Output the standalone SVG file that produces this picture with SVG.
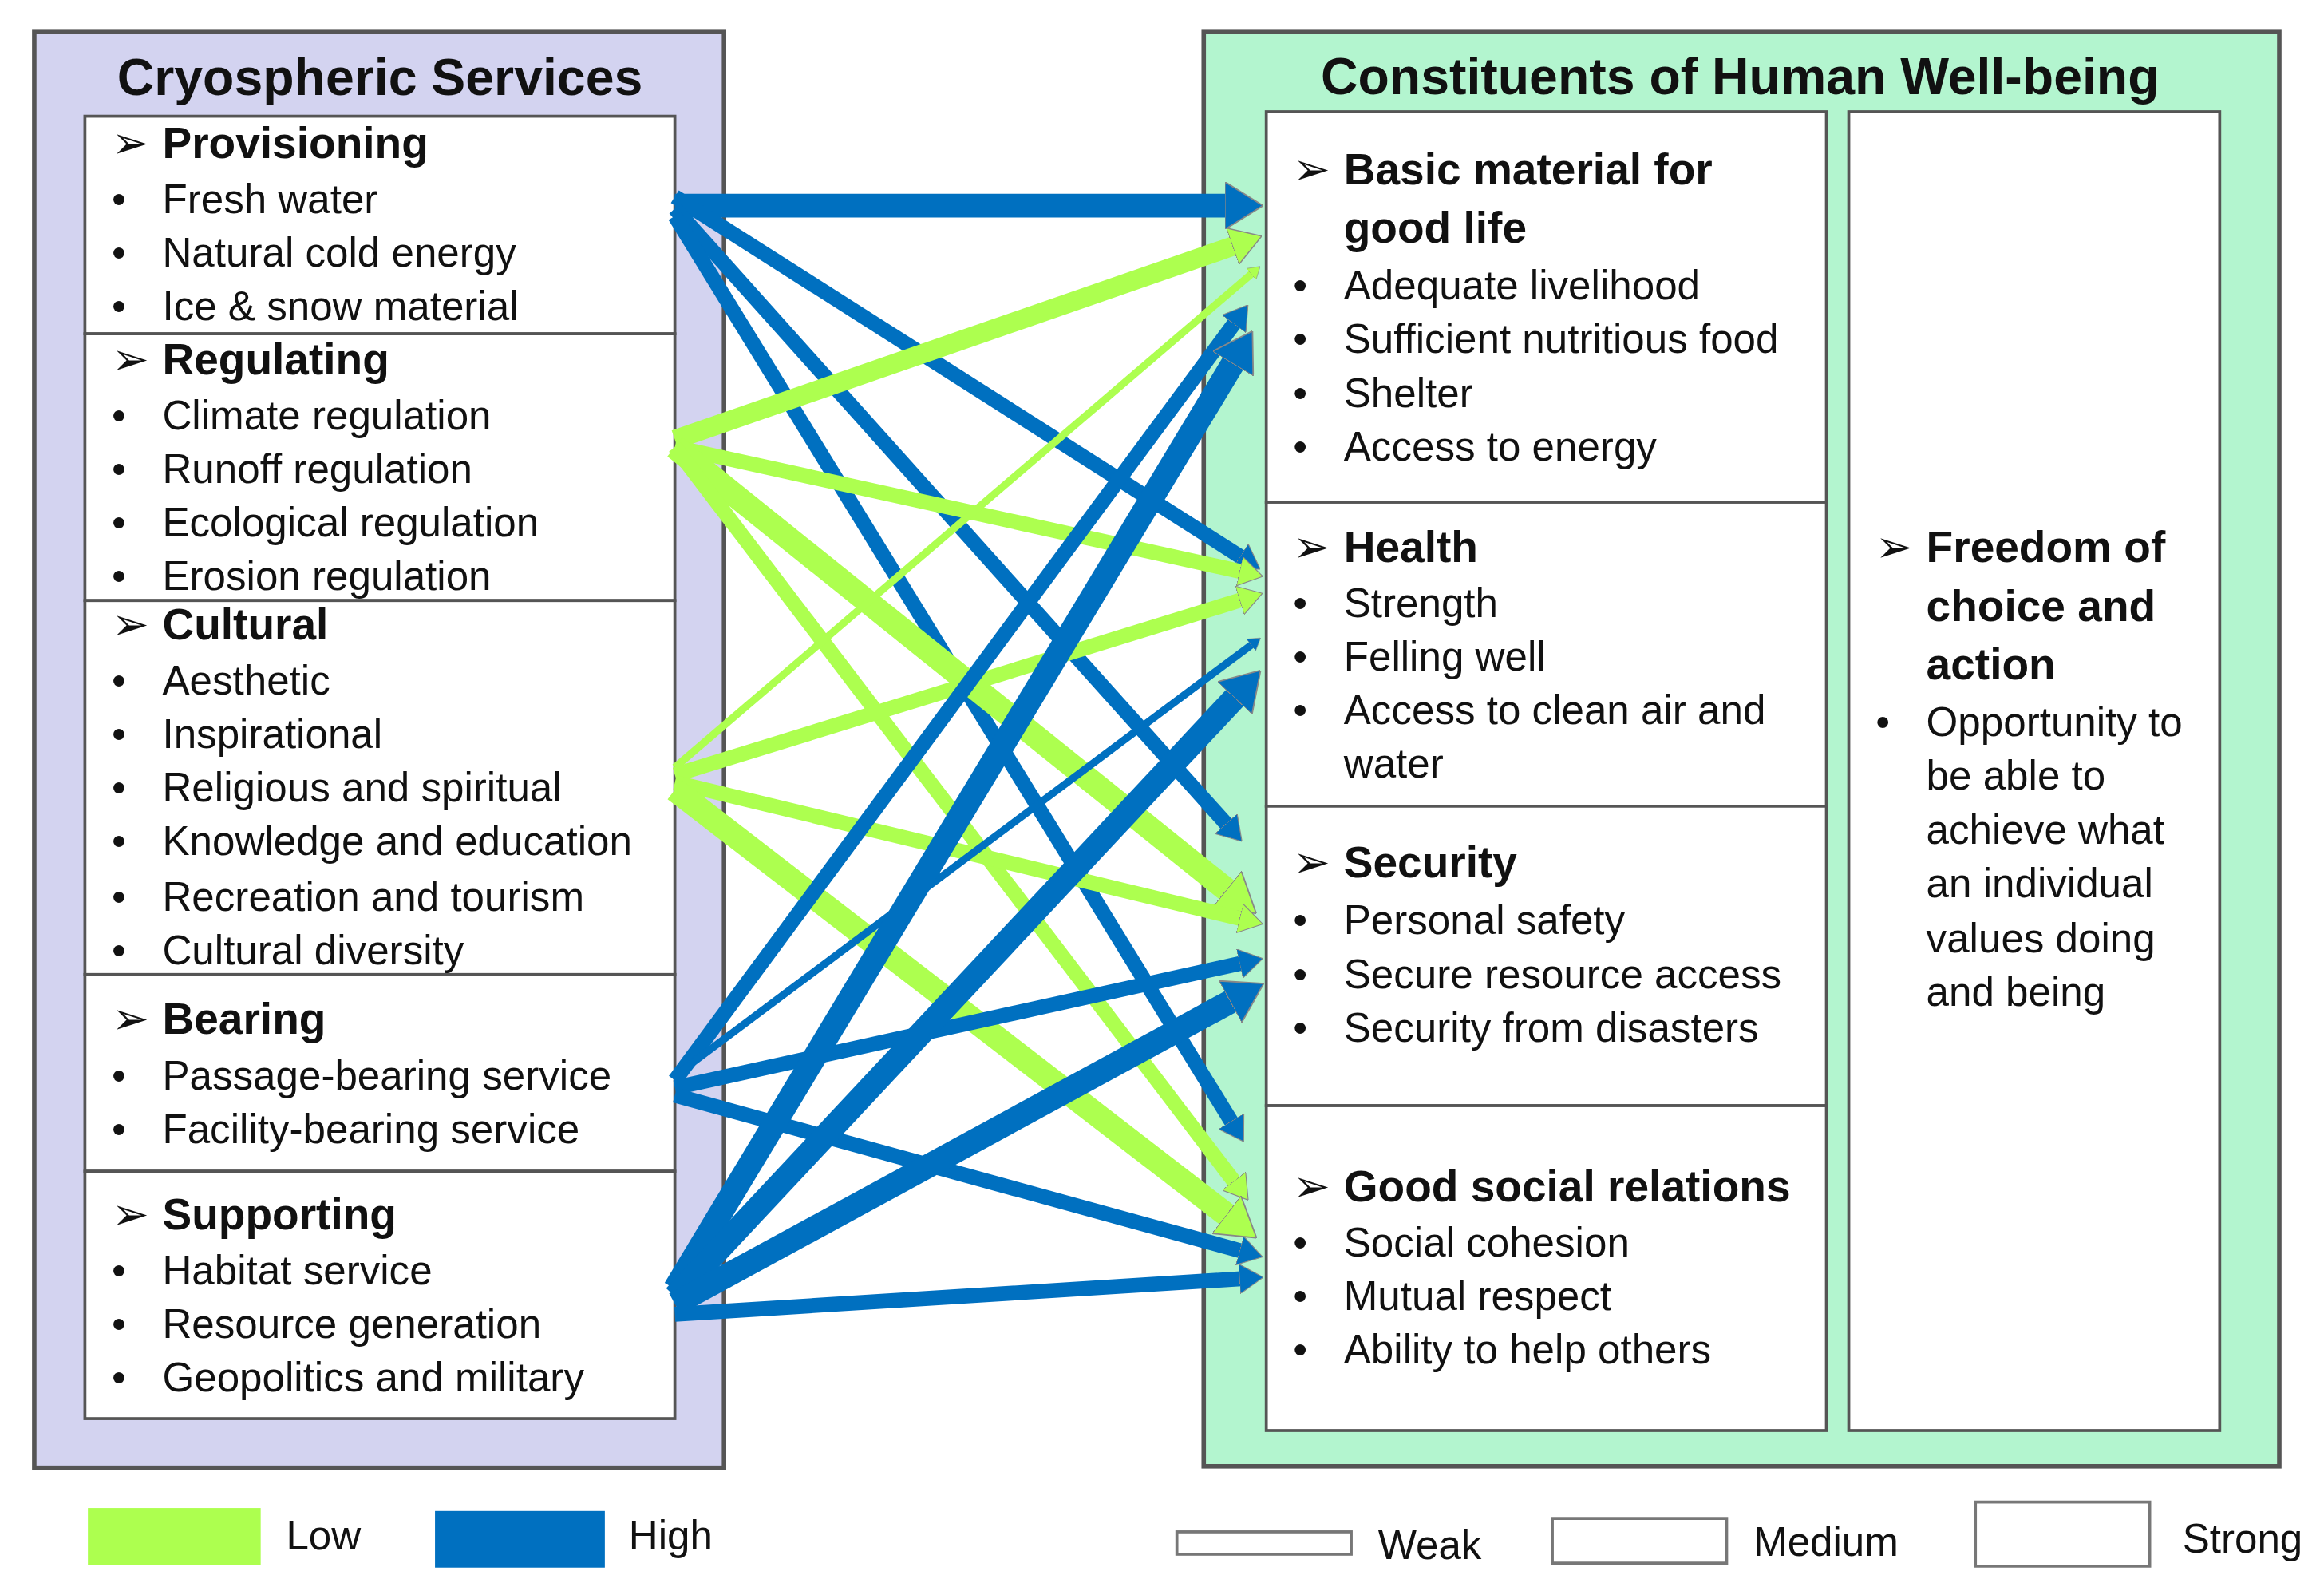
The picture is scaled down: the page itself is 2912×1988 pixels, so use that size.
<svg xmlns="http://www.w3.org/2000/svg" width="2912" height="1988" viewBox="0 0 2912 1988">
<style>
text{font-family:"Liberation Sans",Arial,sans-serif;font-size:27.4px;fill:#111}
.h{font-weight:bold;font-size:29.5px}
.t{font-weight:bold;font-size:34.5px}
.a{font-size:30px}
.box{fill:#fff;stroke:#555;stroke-width:2}
.b{stroke:#0070c0;fill:none}
.g{stroke:#adff4f;fill:none}
.s{stroke-width:16}.m{stroke-width:10}.w{stroke-width:5}
.b{marker-end:url(#hb)}.g{marker-end:url(#hg)}
</style>
<defs>
<marker id="hb" viewBox="0 -1 1.6 2" refX="0.3" refY="0" markerWidth="1.6" markerHeight="2" orient="auto" markerUnits="strokeWidth"><path d="M0,-1L1.6,0L0,1z" fill="#0070c0" stroke="#888" stroke-width="0.06"/></marker>
<marker id="hg" viewBox="0 -1 1.6 2" refX="0.3" refY="0" markerWidth="1.6" markerHeight="2" orient="auto" markerUnits="strokeWidth"><path d="M0,-1L1.6,0L0,1z" fill="#adff4f" stroke="#888" stroke-width="0.06"/></marker>
</defs>
<rect width="2912" height="1988" fill="#fff"/>
<g transform="scale(1.86667)">
<g id="cryo">
<rect x="23" y="21" width="463" height="964" fill="#d3d3f0" stroke="#555" stroke-width="3"/>
<text class="t" x="255" y="64" text-anchor="middle">Cryospheric Services</text>
</g>
<g id="provisioning"><rect class="box" x="57" y="78" width="396" height="146"/>
<text class="a" x="75" y="106">➢</text><text class="h" x="109" y="106">Provisioning</text>
<text x="75" y="143">•</text><text x="109" y="143">Fresh water</text>
<text x="75" y="179">•</text><text x="109" y="179">Natural cold energy</text>
<text x="75" y="215">•</text><text x="109" y="215">Ice &amp; snow material</text></g>
<g id="regulating"><rect class="box" x="57" y="224" width="396" height="179"/>
<text class="a" x="75" y="251">➢</text><text class="h" x="109" y="251">Regulating</text>
<text x="75" y="288">•</text><text x="109" y="288">Climate regulation</text>
<text x="75" y="324">•</text><text x="109" y="324">Runoff regulation</text>
<text x="75" y="360">•</text><text x="109" y="360">Ecological regulation</text>
<text x="75" y="396">•</text><text x="109" y="396">Erosion regulation</text></g>
<g id="cultural"><rect class="box" x="57" y="403" width="396" height="251"/>
<text class="a" x="75" y="429">➢</text><text class="h" x="109" y="429">Cultural</text>
<text x="75" y="466">•</text><text x="109" y="466">Aesthetic</text>
<text x="75" y="502">•</text><text x="109" y="502">Inspirational</text>
<text x="75" y="538">•</text><text x="109" y="538">Religious and spiritual</text>
<text x="75" y="574">•</text><text x="109" y="574">Knowledge and education</text>
<text x="75" y="611">•</text><text x="109" y="611">Recreation and tourism</text>
<text x="75" y="647">•</text><text x="109" y="647">Cultural diversity</text></g>
<g id="bearing"><rect class="box" x="57" y="654" width="396" height="132"/>
<text class="a" x="75" y="694">➢</text><text class="h" x="109" y="694">Bearing</text>
<text x="75" y="731">•</text><text x="109" y="731">Passage-bearing  service</text>
<text x="75" y="767">•</text><text x="109" y="767">Facility-bearing service</text></g>
<g id="supporting"><rect class="box" x="57" y="786" width="396" height="166"/>
<text class="a" x="75" y="825">➢</text><text class="h" x="109" y="825">Supporting</text>
<text x="75" y="862">•</text><text x="109" y="862">Habitat service</text>
<text x="75" y="898">•</text><text x="109" y="898">Resource generation</text>
<text x="75" y="934">•</text><text x="109" y="934">Geopolitics and military</text></g>

<g id="wellbeing">
<rect x="808" y="21" width="722" height="963" fill="#b3f5cf" stroke="#555" stroke-width="3"/>
<text class="t" x="1168" y="63" text-anchor="middle">Constituents of Human Well-being</text>
</g>
<g id="basic"><rect class="box" x="850" y="75" width="376" height="262"/>
<text class="a" x="868" y="124">➢</text><text class="h" x="902" y="124">Basic material for</text><text class="h" x="902" y="163">good life</text>
<text x="868" y="201">•</text><text x="902" y="201">Adequate livelihood</text>
<text x="868" y="237">•</text><text x="902" y="237">Sufficient nutritious food</text>
<text x="868" y="273">•</text><text x="902" y="273">Shelter</text>
<text x="868" y="309">•</text><text x="902" y="309">Access to energy</text></g>
<g id="health"><rect class="box" x="850" y="337" width="376" height="204"/>
<text class="a" x="868" y="377">➢</text><text class="h" x="902" y="377">Health</text>
<text x="868" y="414">•</text><text x="902" y="414">Strength</text>
<text x="868" y="450">•</text><text x="902" y="450">Felling well</text>
<text x="868" y="486">•</text><text x="902" y="486">Access to clean air and</text>
<text x="902" y="522">water</text></g>
<g id="security"><rect class="box" x="850" y="541" width="376" height="201"/>
<text class="a" x="868" y="589">➢</text><text class="h" x="902" y="589">Security</text>
<text x="868" y="627">•</text><text x="902" y="627">Personal safety</text>
<text x="868" y="663">•</text><text x="902" y="663">Secure resource access</text>
<text x="868" y="699">•</text><text x="902" y="699">Security from disasters</text></g>
<g id="social"><rect class="box" x="850" y="742" width="376" height="218"/>
<text class="a" x="868" y="806">➢</text><text class="h" x="902" y="806">Good social relations</text>
<text x="868" y="843">•</text><text x="902" y="843">Social cohesion</text>
<text x="868" y="879">•</text><text x="902" y="879">Mutual respect</text>
<text x="868" y="915">•</text><text x="902" y="915">Ability to help others</text></g>
<g id="freedom"><rect class="box" x="1241" y="75" width="249" height="885"/>
<text class="a" x="1259" y="377">➢</text><text class="h" x="1293" y="377">Freedom of</text><text class="h" x="1293" y="417">choice and</text><text class="h" x="1293" y="456">action</text>
<text x="1259" y="494">•</text><text x="1293" y="494">Opportunity to</text>
<text x="1293" y="530">be able to</text><text x="1293" y="566">achieve what</text><text x="1293" y="602">an individual</text><text x="1293" y="639">values doing</text><text x="1293" y="675">and being</text></g>

<g id="connectors">
<line class="b s" x1="453" y1="138" x2="827" y2="138"/>
<line class="b m" x1="453" y1="132" x2="835" y2="375"/>
<line class="b m" x1="453" y1="140" x2="825" y2="555"/>
<line class="b m" x1="453" y1="145" x2="828" y2="755"/>
<line class="g" style="stroke-width:13" x1="453" y1="295" x2="831" y2="164"/>
<line class="g m" x1="453" y1="300" x2="835" y2="384"/>
<line class="g s" x1="453" y1="300" x2="827" y2="600"/>
<line class="g m" x1="453" y1="300" x2="830" y2="795"/>
<line class="g w" x1="453" y1="515" x2="841" y2="183"/>
<line class="g m" x1="453" y1="520" x2="835" y2="402"/>
<line class="g m" x1="453" y1="525" x2="835" y2="617"/>
<line class="g s" x1="453" y1="530" x2="827" y2="818"/>
<line class="b m" x1="453" y1="725" x2="830" y2="215"/>
<line class="b w" x1="453" y1="722" x2="841" y2="432"/>
<line class="b m" x1="453" y1="730" x2="835" y2="646"/>
<line class="b m" x1="453" y1="735" x2="835" y2="840"/>
<line class="b s" x1="453" y1="865" x2="830" y2="240"/>
<line class="b s" x1="453" y1="870" x2="832" y2="465"/>
<line class="b s" x1="453" y1="875" x2="830" y2="670"/>
<line class="b m" x1="453" y1="882" x2="835" y2="858"/>
</g>

<g id="legend">
<rect x="59" y="1012" width="116" height="38" fill="#adff4f"/>
<text x="192" y="1040">Low</text>
<rect x="292" y="1014" width="114" height="38" fill="#0070c0"/>
<text x="422" y="1040">High</text>
<rect x="790" y="1028" width="117" height="15" fill="#fff" stroke="#777" stroke-width="2"/>
<text x="925" y="1046">Weak</text>
<rect x="1042" y="1019" width="117" height="30" fill="#fff" stroke="#777" stroke-width="2"/>
<text x="1177" y="1044">Medium</text>
<rect x="1326" y="1008" width="117" height="43" fill="#fff" stroke="#777" stroke-width="2"/>
<text x="1465" y="1042">Strong</text>
</g>
</g>
</svg>
